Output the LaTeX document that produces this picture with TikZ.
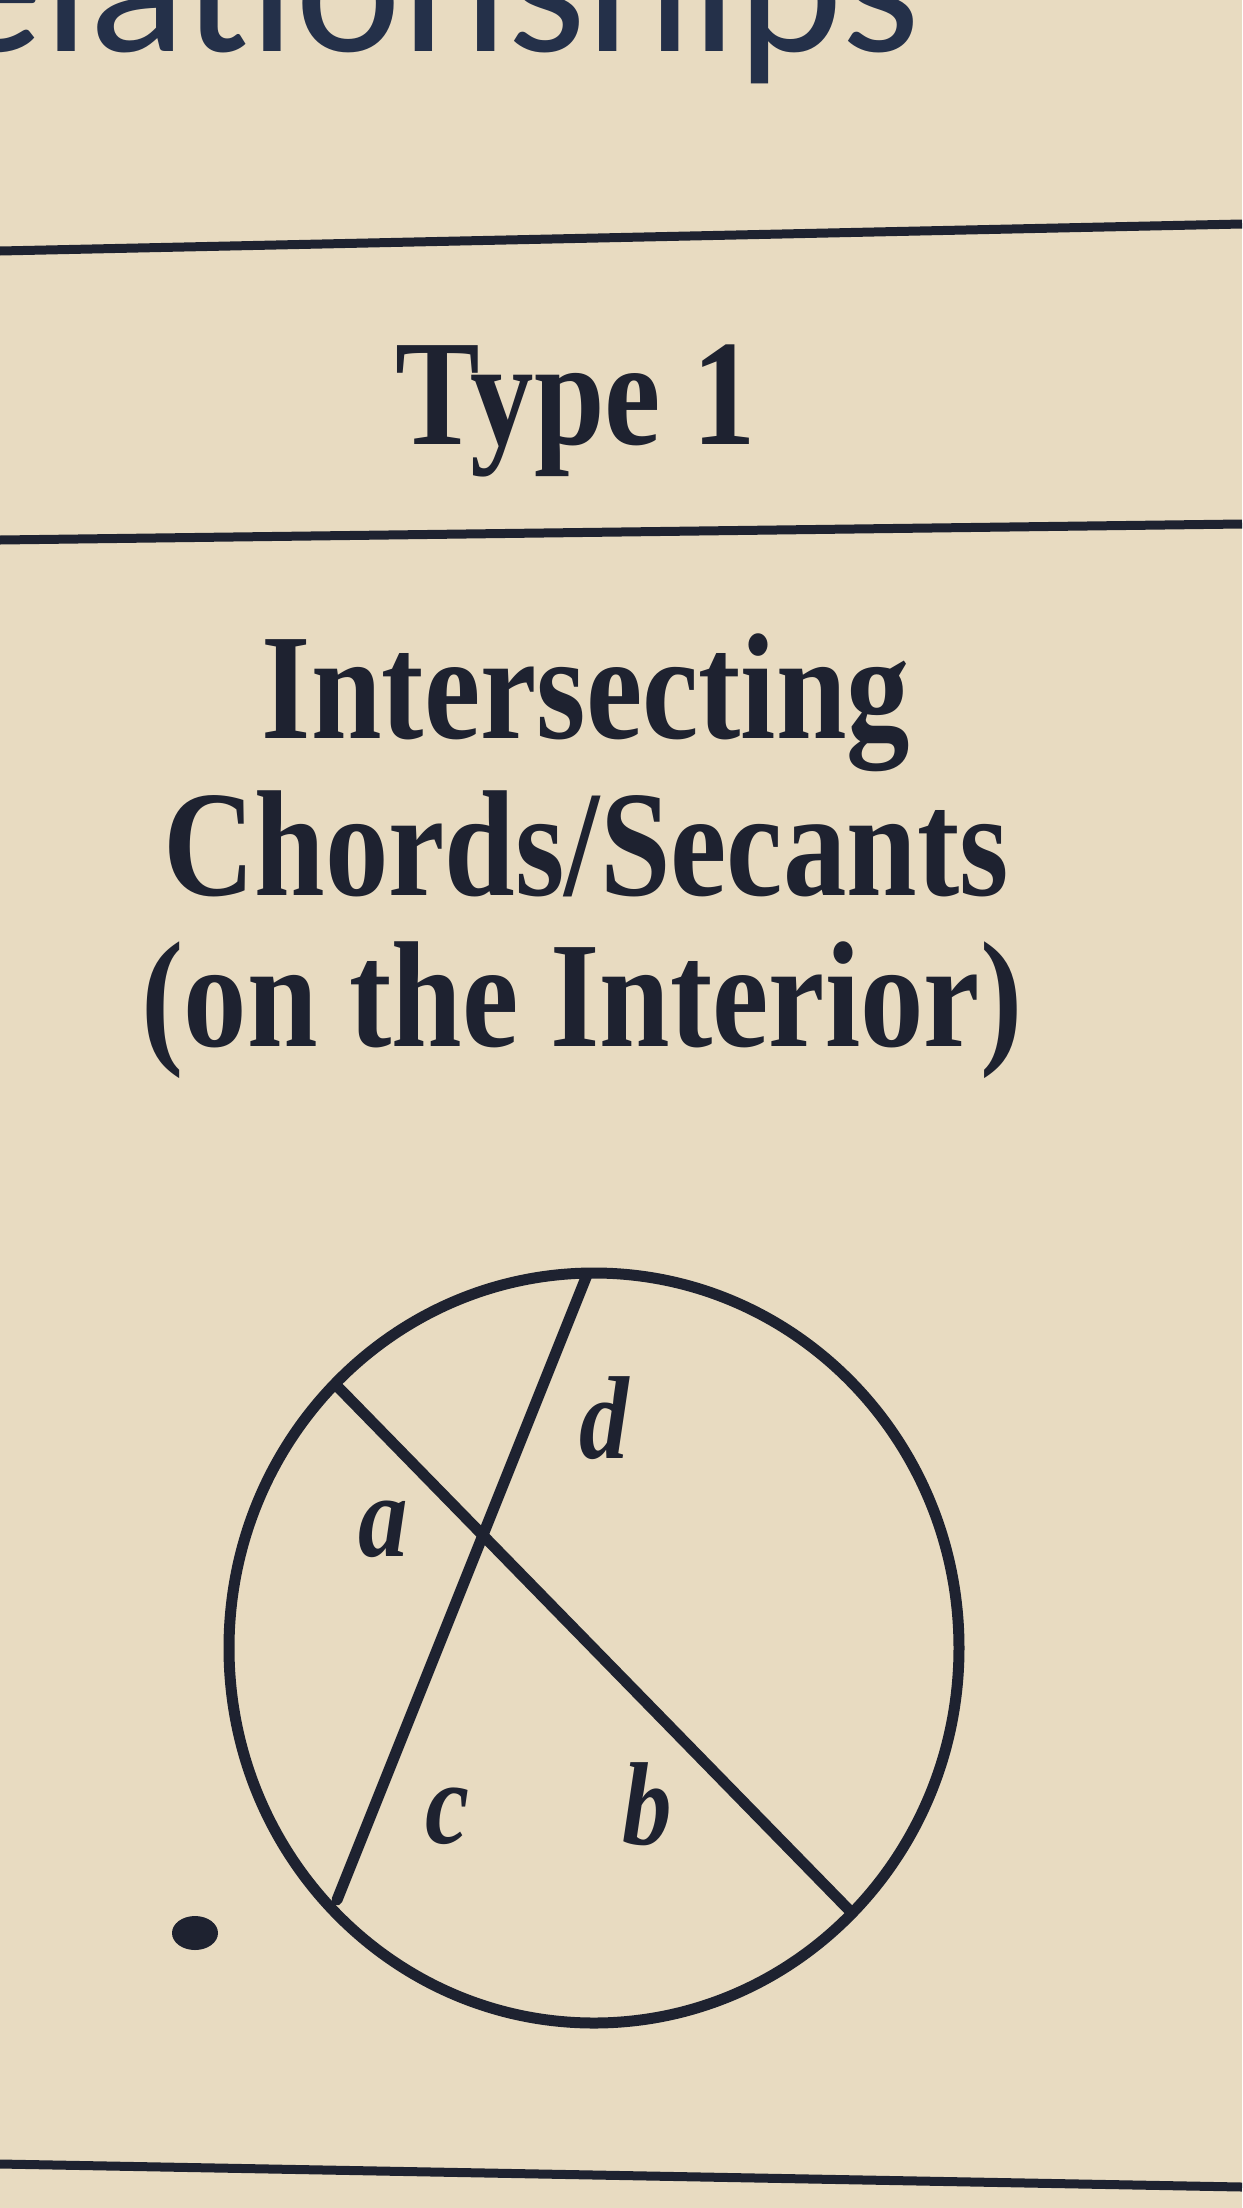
\documentclass[tikz,border=0pt]{standalone}
\usepackage{fontspec}
\usepackage{graphicx}
\setmainfont{Liberation Serif}
\newfontfamily\calibfont{Carlito}
\definecolor{paper}{HTML}{E8DBC1}
\definecolor{ink}{HTML}{1E2230}
\definecolor{navy}{HTML}{243049}
\newcommand{\narrow}[1]{\scalebox{0.84}[1]{#1}}
\tikzset{
  head/.style={anchor=base, inner sep=0pt, text=ink, font=\fontsize{151}{154}\selectfont\bfseries},
  lab/.style={anchor=base, inner sep=0pt, text=ink, font=\fontsize{118}{120}\selectfont\bfseries\itshape},
  rule/.style={draw=ink, line width=9pt},
  geo/.style={draw=ink, line width=11pt, line cap=round, line join=round}
}
\begin{document}
\begin{tikzpicture}[x=1pt, y=-1pt]
\fill[paper] (0,0) rectangle (1242,2208);
\useasboundingbox (0,0) rectangle (1242,2208);
\clip (0,0) rectangle (1242,2208);
% cropped heading at top
\node[anchor=base west, inner sep=0pt, text=navy, font=\fontsize{201}{205}\selectfont\calibfont] (top) at (-57,52) {elationships};
% rules
\coordinate (r1l) at (0,251); \coordinate (r1r) at (1242,224);
\coordinate (r2l) at (0,540); \coordinate (r2r) at (1242,524);
\coordinate (r3l) at (0,2164); \coordinate (r3r) at (1242,2187);
\draw[rule] (r1l) -- (r1r);
\draw[rule] (r2l) -- (r2r);
\draw[rule] (r3l) -- (r3r);
% headings
\node[head] (type) at (576,444) {\narrow{Type 1}};
\node[head] (t1) at (586,738) {\narrow{Intersecting}};
\node[head] (t2) at (586,895) {\narrow{Chords/Secants}};
\node[head] (t3) at (582,1046) {\narrow{(on the Interior)}};
% circle and chords
\coordinate (O) at (594,1648);
\draw[geo] (O) ellipse [x radius=365pt, y radius=375pt];
\coordinate (A) at (338,1387);
\coordinate (B) at (852,1913);
\coordinate (C) at (337,1900);
\coordinate (D) at (587,1275);
\draw[geo] (A) -- (B);
\draw[geo] (D) -- (C);
% labels
\node[lab] (la) at (383,1556) {\narrow{a}};
\node[lab] (ld) at (604,1458) {\narrow{d}};
\node[lab] (lc) at (447,1843) {\narrow{c}};
\node[lab] (lb) at (647,1844) {\narrow{b}};
% stray dot
\fill[ink] (195,1933) ellipse [x radius=23pt, y radius=17pt];
\end{tikzpicture}
\end{document}
